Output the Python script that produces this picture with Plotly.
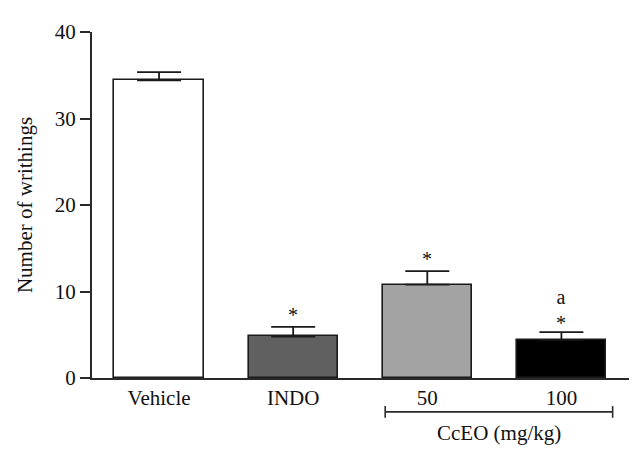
import plotly.graph_objects as go

categories = ["Vehicle", "INDO", "50", "100"]
means = [34.4, 4.8, 10.8, 4.4]
sems = [0.95, 1.1, 1.55, 0.9]
bar_colors = ["#ffffff", "#606060", "#a3a3a3", "#000000"]
markers = ["", "*", "*", "*"]
extra_marks = ["", "", "", "a"]
group_label = "CcEO (mg/kg)"
y_ticks = [0, 10, 20, 30, 40]

FONT = "Liberation Serif"
AX = "#2a2a2a"
FS = 21

# page body has an 8px margin: compensate so the plot lands where the reference has it
W, H = 634, 452
ML, MR, MT, MB = 84, 13, 13, 82
PW = W - ML - MR
PH = H - MT - MB

fig = go.Figure()
fig.add_trace(go.Bar(
    x=list(range(len(categories))), y=means,
    width=0.665,
    marker=dict(color=bar_colors, line=dict(color="#1a1a1a", width=1.6)),
    error_y=dict(type="data", symmetric=False, array=sems,
                 arrayminus=[0] * len(sems), color="#1a1a1a",
                 thickness=1.8, width=22),
    showlegend=False,
))

for i, (m, s, mk, ex) in enumerate(zip(means, sems, markers, extra_marks)):
    if mk and ex:
        fig.add_annotation(x=i, y=m + s, text=ex + "<br>" + mk, showarrow=False,
                           yanchor="bottom", yshift=-4,
                           font=dict(family=FONT, size=20, color="#111"))
    elif mk:
        fig.add_annotation(x=i, y=m + s, text=mk, showarrow=False,
                           yanchor="middle", yshift=12,
                           font=dict(family=FONT, size=20, color="#111"))

# bracket under 50 and 100
bx0, bx1 = 1.686, 3.382
by = -35 / PH
fig.add_shape(type="line", xref="x", yref="paper", x0=bx0, x1=bx1,
              y0=by, y1=by, line=dict(color=AX, width=1.6))
for bx in (bx0, bx1):
    fig.add_shape(type="line", xref="x", yref="paper", x0=bx, x1=bx,
                  y0=by + 6 / PH, y1=by - 6 / PH, line=dict(color=AX, width=1.6))
fig.add_annotation(x=(bx0 + bx1) / 2, y=-57 / PH, xref="x", yref="paper",
                   text=group_label, showarrow=False, yanchor="middle",
                   font=dict(family=FONT, size=FS, color="#111"))

# x-axis line extension to the left of the y-axis
fig.add_shape(type="line", xref="paper", yref="y", x0=-10 / PW, x1=0,
              y0=0, y1=0, line=dict(color=AX, width=2))

fig.update_layout(
    width=W, height=H,
    margin=dict(l=ML, r=MR, t=MT, b=MB),
    paper_bgcolor="white", plot_bgcolor="white",
    font=dict(family=FONT, size=FS, color="#111"),
    bargap=0,
    xaxis=dict(range=[-0.5, 3.504], tickmode="array",
               tickvals=list(range(len(categories))), ticktext=categories,
               showline=True, linecolor=AX, linewidth=2, ticks="",
               showgrid=False, zeroline=False, fixedrange=True),
    yaxis=dict(range=[0, 40], tickmode="array", tickvals=y_ticks,
               showline=True, linecolor=AX, linewidth=2,
               ticks="outside", ticklen=10, tickwidth=2, tickcolor=AX,
               showgrid=False, zeroline=False,
               title=dict(text="Number of writhings", standoff=16,
                          font=dict(family=FONT, size=FS))),
)

fig.write_html("out.html")
